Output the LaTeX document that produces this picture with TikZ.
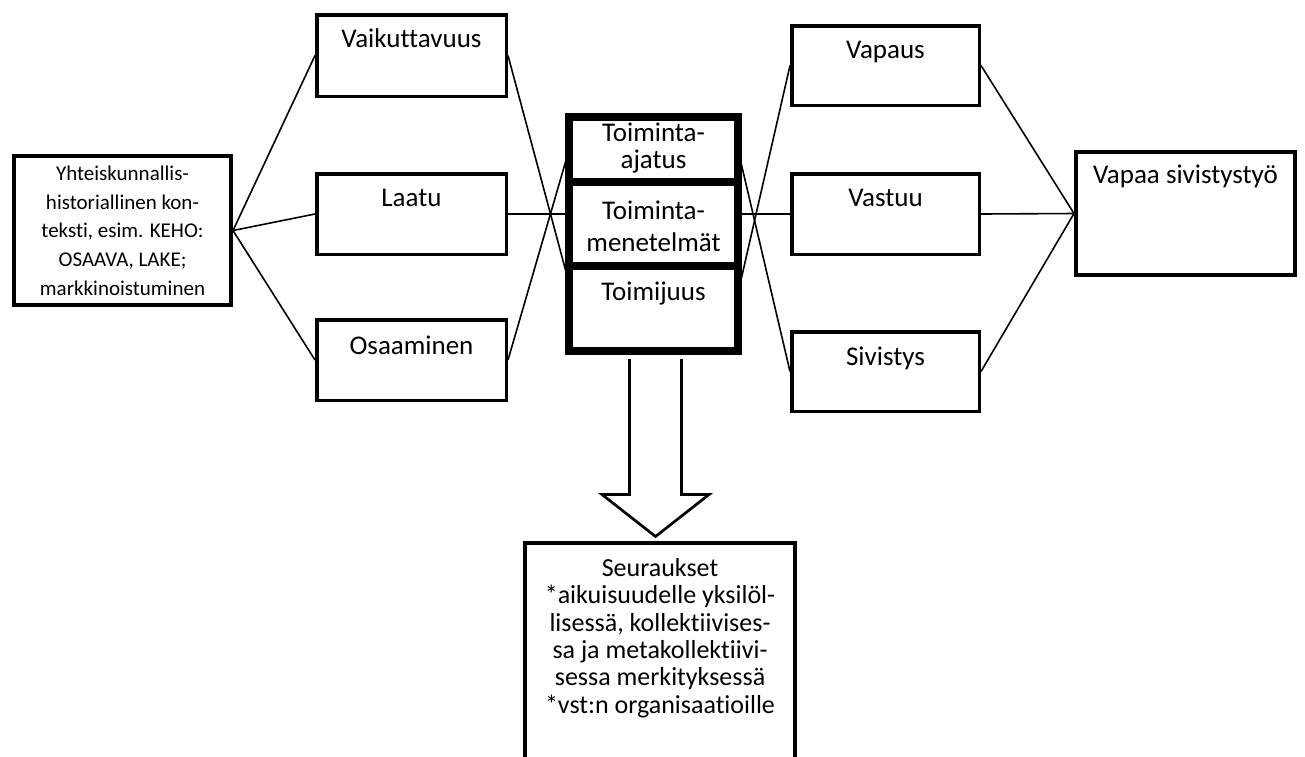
\documentclass[tikz,border=0pt]{standalone}
\usepackage{fontspec}
\setmainfont{Carlito}[Ligatures={NoCommon}]
\usetikzlibrary{calc}
\newcommand{\fsmain}{\fontsize{27}{31.7}\selectfont}
\newcommand{\fstop}{\fontsize{27}{27}\selectfont}
\newcommand{\fsctx}{\fontsize{21}{28.7}\selectfont}
\newcommand{\fsseur}{\fontsize{26}{27.4}\selectfont}
\begin{document}
\begin{tikzpicture}[x=1pt,y=-1pt,
  box/.style={draw, line width=3.5pt, inner sep=0pt},
  cbox/.style={draw, line width=8pt, inner sep=0pt, minimum width=169pt},
  lbl/.style={anchor=center, align=center, font=\fsmain, inner sep=0pt},
  conn/.style={line width=1.6pt},
  blockarrow/.style={draw, fill=white, line width=2.7pt, line join=miter}]
\clip (0,0) rectangle (1305,756);
\fill[white] (0,0) rectangle (1305,756);

% left context box
\node[box, line width=4pt, minimum width=217pt, minimum height=149pt, align=center, font=\fsctx] (ctx) at (122.5,230.5)
  {Yhteiskunnallis-\\historiallinen kon-\\teksti, esim. KEHO:\\OSAAVA, LAKE;\\markkinoistuminen};

% left column
\node[box, minimum width=189.5pt, minimum height=81.5pt, label={[lbl, yshift=-25pt]north:Vaikuttavuus}] (vai) at (411.5,55.5) {};
\node[box, minimum width=189.5pt, minimum height=80.5pt, label={[lbl, yshift=-26pt]north:Laatu}] (laa) at (411.5,214) {};
\node[box, minimum width=189.5pt, minimum height=80.5pt, label={[lbl, yshift=-27pt]north:Osaaminen}] (osa) at (411.5,360) {};

% right column
\node[box, minimum width=187.5pt, minimum height=79.5pt, label={[lbl, yshift=-28pt]north:Vapaus}] (vap) at (885.5,65.5) {};
\node[box, minimum width=187.5pt, minimum height=80.5pt, label={[lbl, yshift=-26pt]north:Vastuu}] (vas) at (885.5,214) {};
\node[box, minimum width=187.5pt, minimum height=79.5pt, label={[lbl, yshift=-28pt]north:Sivistys}] (siv) at (885.5,371.5) {};

% far right
\node[box, line width=4pt, minimum width=219pt, minimum height=123pt, label={[lbl, yshift=-26pt]north:Vapaa sivistystyö}] (vst) at (1185.5,213.5) {};

% connection points on the centre block
\coordinate (cl1) at (569,150);
\coordinate (cl2) at (569,283);
\coordinate (cr1) at (738,150);
\coordinate (cr2) at (738,293);

% connectors left
\draw[conn] (ctx.east) -- (vai.west);
\draw[conn] (ctx.east) -- (laa.west);
\draw[conn] (ctx.east) -- (osa.west);
\draw[conn] (vai.east) -- (cl2);
\draw[conn] (osa.east) -- (cl1);
\draw[conn] (laa.east) -- (laa.east -| cl1);
% connectors right
\draw[conn] (cr1) -- (siv.west);
\draw[conn] (cr2) -- (vap.west);
\draw[conn] (vas.west -| cr1) -- (vas.west);
\draw[conn] (vap.east) -- (vst.west);
\draw[conn] (vas.east) -- (vst.west);
\draw[conn] (siv.east) -- (vst.west);

% bottom box
\node[box, line width=4pt, minimum width=270pt, minimum height=260pt] (seur) at (660,673) {};
\node[align=center, font=\fsseur, inner sep=0pt, anchor=north] (seurt) at (660,558)
  {Seuraukset\\*aikuisuudelle yksilöl-\\lisessä, kollektiivises-\\sa ja metakollektiivi-\\sessa merkityksessä\\*vst:n organisaatioille};

% centre block
\node[cbox, minimum height=65pt] (ta) at (653.5,149.5) {};
\node[cbox, minimum height=85pt] (tj) at (653.5,308.5) {};
\node[cbox, minimum height=84pt] (tm) at (653.5,224) {};
\node[lbl, font=\fstop, anchor=north] (tat) at (653.5,122.5) {Toiminta-\\ajatus};
\node[lbl] (tmt) at (653.5,226) {Toiminta-\\menetelmät};
\node[lbl] (tjt) at (653.5,294) {Toimijuus};

% block arrow
\draw[blockarrow] ($(tj.south)+(-24,4)$) -- (629.5,494.5) -- (602,494.5) -- (655.5,536.5) -- (709,494.5) -- (681.5,494.5) -- ($(tj.south)+(28,4)$);
\end{tikzpicture}
\end{document}
